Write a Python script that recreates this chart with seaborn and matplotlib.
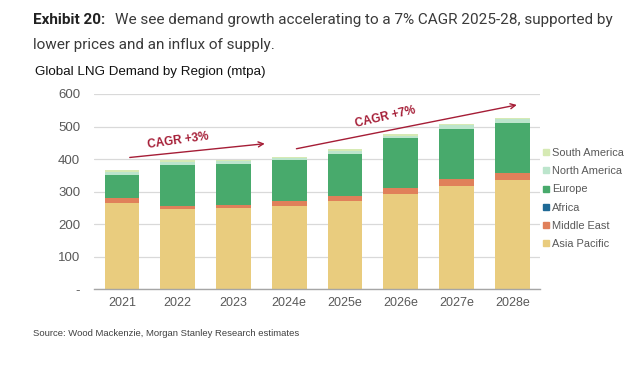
import matplotlib
matplotlib.use("Agg")
import matplotlib.pyplot as plt
import seaborn as sns
import numpy as np
import pandas as pd
from matplotlib.lines import Line2D

years = ["2021", "2022", "2023", "2024e", "2025e", "2026e", "2027e", "2028e"]
asia_pacific = [264, 245, 249, 257, 272, 292, 317, 335]
middle_east = [15, 11, 11, 15, 15, 20, 21, 23]
africa = [0.2, 0.2, 0.2, 0.2, 0.2, 0.2, 0.2, 0.2]
europe = [71, 127, 126, 124, 129, 151, 155, 153]
north_america = [10, 9, 8, 7, 9, 9, 11, 11]
south_america = [7, 4, 4, 3, 5, 4, 5, 5]

regions = ["Asia Pacific", "Middle East", "Africa", "Europe", "North America", "South America"]
values = [asia_pacific, middle_east, africa, europe, north_america, south_america]
colors = ["#E9CC7E", "#E0805A", "#1F6A96", "#48AA6C", "#BCE5CC", "#D6EAB4"]

yticks = [0, 100, 200, 300, 400, 500, 600]
ytick_labels = ["-", "100", "200", "300", "400", "500", "600"]

sns.set_theme(style="white")
plt.rcParams["font.family"] = ["Liberation Sans", "DejaVu Sans"]

fig = plt.figure(figsize=(6.4, 3.76), dpi=100)
ax = fig.add_axes([0.147, 0.231, 0.697, 0.519])

cum = np.cumsum(np.array(values), axis=0)
for i in range(len(regions) - 1, -1, -1):
    df = pd.DataFrame({"year": years, "value": cum[i]})
    sns.barplot(data=df, x="year", y="value", color=colors[i], width=0.62,
                saturation=1, ax=ax, zorder=2, linewidth=0)

ax.set_xlim(-0.5, 7.5)
ax.set_ylim(0, 600)
ax.set_yticks(yticks)
ax.set_yticklabels(ytick_labels)
ax.set_xlabel("")
ax.set_ylabel("")
ax.grid(axis="y", color="#D9D9D9", linewidth=0.9, zorder=0)
for s in ["top", "right", "left"]:
    ax.spines[s].set_visible(False)
ax.spines["bottom"].set_color("#A6A6A6")
ax.spines["bottom"].set_linewidth(1.0)
ax.tick_params(axis="y", length=0, pad=10, labelsize=9.5, labelcolor="#595959")
ax.tick_params(axis="x", length=0, pad=6, labelsize=9, labelcolor="#595959")

# CAGR arrows
red = "#A51D36"
ax.annotate("", xy=(2.61, 448), xytext=(0.09, 404),
            arrowprops=dict(arrowstyle="->", color=red, lw=1.0, mutation_scale=9))
ax.text(1.0, 455, "CAGR +3%", color=red, fontsize=8.5, fontweight="bold",
        rotation=8, ha="center", va="center")
ax.annotate("", xy=(7.13, 568), xytext=(3.08, 430),
            arrowprops=dict(arrowstyle="->", color=red, lw=1.0, mutation_scale=9))
ax.text(4.73, 530, "CAGR +7%", color=red, fontsize=8.5, fontweight="bold",
        rotation=13, ha="center", va="center")

# legend
handles = [Line2D([0], [0], marker="s", linestyle="none", markersize=4.5,
                  markerfacecolor=colors[i], markeredgecolor=colors[i], label=regions[i])
           for i in range(len(regions) - 1, -1, -1)]
leg = fig.legend(handles=handles, loc="upper left", bbox_to_anchor=(0.838, 0.618),
                 frameon=False, fontsize=7.9, handletextpad=0.0, labelspacing=0.75,
                 borderaxespad=0, handlelength=1.0)
for t in leg.get_texts():
    t.set_color("#595959")

# titles
hdr_font = ["Roboto", "DejaVu Sans"]
t1 = fig.text(0.052, 0.947, "Exhibit 20:", fontsize=11, fontweight="bold",
              family=hdr_font, color="#222222", va="center")
fig.canvas.draw()
bb = t1.get_window_extent(renderer=fig.canvas.get_renderer())
x2 = (bb.x1 + 9) / fig.bbox.width
fig.text(x2, 0.947, "We see demand growth accelerating to a 7% CAGR 2025-28, supported by",
         fontsize=11, family=hdr_font, color="#3A3A3A", va="center")
fig.text(0.052, 0.880, "lower prices and an influx of supply.",
         fontsize=11, family=hdr_font, color="#3A3A3A", va="center")
fig.text(0.055, 0.808, "Global LNG Demand by Region (mtpa)", fontsize=9.6,
         color="#111111", va="center")
fig.text(0.052, 0.114, "Source: Wood Mackenzie, Morgan Stanley Research estimates",
         fontsize=6.8, color="#404040", va="center")

fig.savefig("out.png", dpi=100)
